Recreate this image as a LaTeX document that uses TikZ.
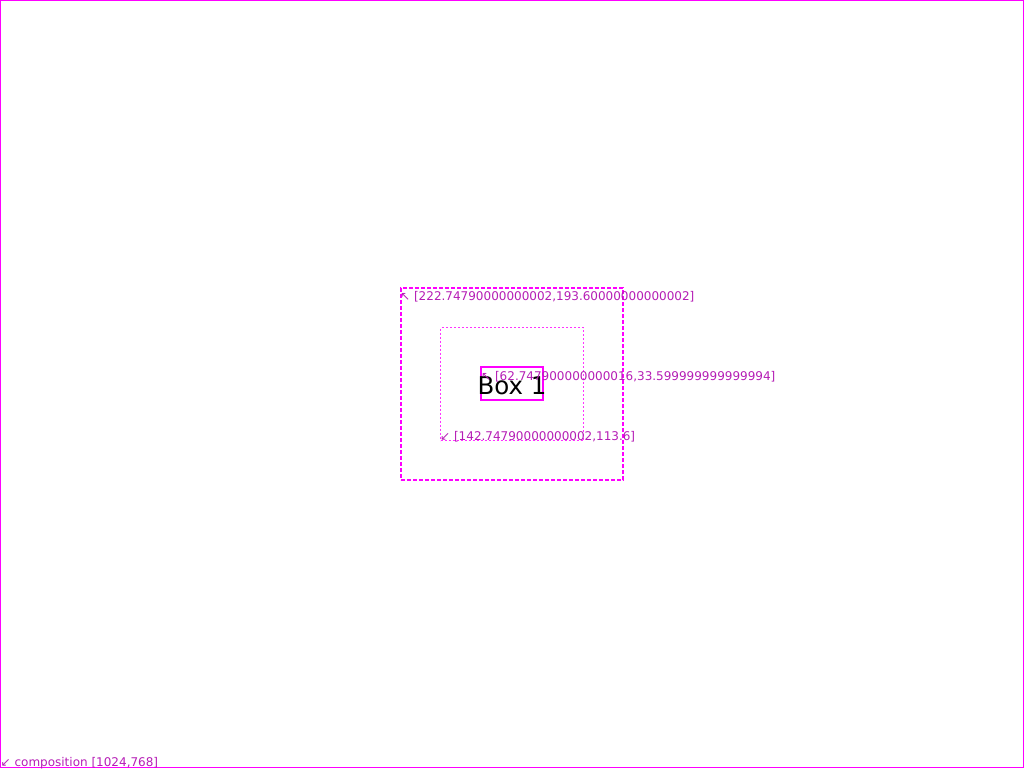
\documentclass[tikz,border=0pt]{standalone}
\usepackage{fontspec}
\setmainfont{DejaVu Sans}
\definecolor{mag}{HTML}{FF00FF}
\definecolor{lbl}{HTML}{B51DB5}
\begin{document}
\begin{tikzpicture}[x=1pt,y=-1pt,
  lab/.style={text=lbl,font=\fontsize{12}{13}\selectfont,inner sep=0pt},
  frame/.style={draw=mag,line width=1pt},
  outerbox/.style={draw=mag,line width=2pt,dash pattern=on 4pt off 2pt},
  innerbox/.style={draw=mag!80,line width=1.5pt,dash pattern=on 2pt off 2pt},
  boxone/.style={draw=mag,line width=2pt}]
\useasboundingbox (0,0) rectangle (1024,768);
\draw[frame] (0.5,0.5) rectangle (1023.5,767.5);
\node[outerbox,minimum width=222pt,minimum height=192pt,inner sep=0pt,outer sep=0pt,anchor=north west] (outer) at (401,288) {};
\node[innerbox,minimum width=143pt,minimum height=113pt,inner sep=0pt,outer sep=0pt,anchor=north west] (inner) at (440.5,327.5) {};
\node[boxone,minimum width=62pt,minimum height=33pt,inner sep=0pt,outer sep=0pt,anchor=north west] (box) at (481,367) {};
\node[font=\fontsize{24.5}{26}\selectfont,inner sep=0pt] (boxtext) at (512,386) {Box 1};
\node[lab,anchor=north west] (louter) at (400,291) {↖ [222.74790000000002,193.60000000000002]};
\node[lab,anchor=south west] (linner) at (440,442.5) {↙ [142.74790000000002,113.6]};
\node[lab,anchor=north west] (lbox) at (481,371) {↖ [62.747900000000016,33.599999999999994]};
\node[lab,anchor=south west] (lcomp) at (0.5,769) {↙ composition [1024,768]};
\end{tikzpicture}
\end{document}
